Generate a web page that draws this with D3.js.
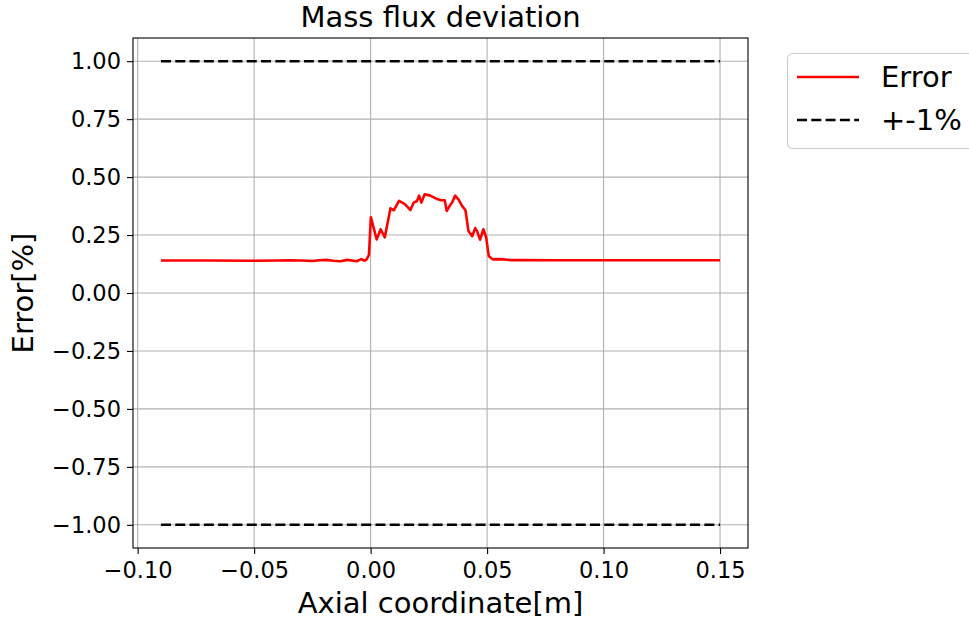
<!DOCTYPE html>
<html>
<head>
<meta charset="utf-8">
<script src="https://cdn.jsdelivr.net/npm/d3@7"></script>
<style>
  html, body { margin: 0; padding: 0; background: #fff; }
  svg { display: block; font-family: "DejaVu Sans", sans-serif; }
</style>
</head>
<body>
<svg id="chart" width="969" height="621"></svg>
<script>
// Axial position [m] of each sample and its mass flux error [%]
const axialX = [
  -0.090, -0.070, -0.050, -0.040, -0.035, -0.030, -0.025, -0.022, -0.019, -0.016,
  -0.013, -0.010, -0.008, -0.006, -0.004, -0.0025, -0.0017, -0.0007, 0.0001, 0.0026,
  0.0043, 0.0061, 0.0085, 0.0100, 0.0122, 0.0147, 0.0171, 0.0185, 0.0199, 0.0208,
  0.0218, 0.0232, 0.0256, 0.0282, 0.0303, 0.0318, 0.0327, 0.0339, 0.0350, 0.0363,
  0.0377, 0.0393, 0.0407, 0.0420, 0.0436, 0.0449, 0.0457, 0.0470, 0.0484, 0.0496,
  0.0507, 0.0524, 0.0560, 0.0600, 0.0650, 0.0800, 0.1000, 0.1250, 0.1500
];
const errorPct = [
  0.140, 0.140, 0.139, 0.140, 0.141, 0.140, 0.138, 0.141, 0.143, 0.139,
  0.137, 0.143, 0.140, 0.137, 0.146, 0.139, 0.145, 0.165, 0.327, 0.231,
  0.275, 0.240, 0.365, 0.357, 0.397, 0.383, 0.358, 0.390, 0.397, 0.420,
  0.390, 0.426, 0.420, 0.407, 0.400, 0.400, 0.354, 0.375, 0.390, 0.420,
  0.404, 0.375, 0.358, 0.267, 0.245, 0.280, 0.267, 0.230, 0.275, 0.240,
  0.160, 0.145, 0.146, 0.142, 0.142, 0.141, 0.141, 0.141, 0.141
];
// +-1% tolerance band
const bandX = [-0.09, 0.15];
const bandLevels = [1.0, -1.0];

const xTicks = [-0.10, -0.05, 0.00, 0.05, 0.10, 0.15];
const yTicks = [-1.00, -0.75, -0.50, -0.25, 0.00, 0.25, 0.50, 0.75, 1.00];

const legendLabels = ["Error", "+-1%"];

const svg = d3.select("#chart");
const plot = { left: 133, right: 748, top: 38, bottom: 548 };

const x = d3.scaleLinear().domain([-0.102, 0.162]).range([plot.left, plot.right]);
const y = d3.scaleLinear().domain([-1.1, 1.1]).range([plot.bottom, plot.top]);

const fmt = v => d3.format(".2f")(v).replace("-", "\u2212");

// grid
const grid = svg.append("g");
grid.selectAll("line.gx").data(xTicks).join("line")
  .attr("x1", d => x(d)).attr("x2", d => x(d))
  .attr("y1", plot.top).attr("y2", plot.bottom)
  .attr("stroke", "#b0b0b0").attr("stroke-width", 1.1);
grid.selectAll("line.gy").data(yTicks).join("line")
  .attr("y1", d => y(d)).attr("y2", d => y(d))
  .attr("x1", plot.left).attr("x2", plot.right)
  .attr("stroke", "#b0b0b0").attr("stroke-width", 1.1);

// tolerance lines
const line = d3.line().x(d => x(d[0])).y(d => y(d[1]));
bandLevels.forEach(lv => {
  svg.append("path")
    .attr("d", line(bandX.map(v => [v, lv])))
    .attr("fill", "none").attr("stroke", "#000")
    .attr("stroke-width", 2.6).attr("stroke-dasharray", "10,4.3");
});

// error curve
svg.append("path")
  .attr("d", line(axialX.map((v, i) => [v, errorPct[i]])))
  .attr("fill", "none").attr("stroke", "#ff0000")
  .attr("stroke-width", 2.6).attr("stroke-linejoin", "round");

// axes
const xAxis = d3.axisBottom(x).tickValues(xTicks).tickFormat(fmt).tickSize(6).tickPadding(8);
const yAxis = d3.axisLeft(y).tickValues(yTicks).tickFormat(fmt).tickSize(6).tickPadding(6);

const gx = svg.append("g").attr("transform", `translate(0,${plot.bottom})`).call(xAxis);
const gy = svg.append("g").attr("transform", `translate(${plot.left},0)`).call(yAxis);
[gx, gy].forEach(g => {
  g.select(".domain").remove();
  g.selectAll(".tick line").attr("stroke", "#000").attr("stroke-width", 1.1);
  g.selectAll(".tick text").attr("fill", "#000").attr("font-size", 22.5)
    .attr("font-family", "DejaVu Sans");
});

// frame
svg.append("rect")
  .attr("x", plot.left).attr("y", plot.top)
  .attr("width", plot.right - plot.left).attr("height", plot.bottom - plot.top)
  .attr("fill", "none").attr("stroke", "#000").attr("stroke-width", 1.1);

// titles
svg.append("text").attr("x", (plot.left + plot.right) / 2).attr("y", 27)
  .attr("text-anchor", "middle").attr("font-size", 29).text("Mass flux deviation");
svg.append("text").attr("x", (plot.left + plot.right) / 2).attr("y", 613)
  .attr("text-anchor", "middle").attr("font-size", 29).text("Axial coordinate[m]");
svg.append("text")
  .attr("transform", `translate(33,${(plot.top + plot.bottom) / 2}) rotate(-90)`)
  .attr("text-anchor", "middle").attr("font-size", 29).text("Error[%]");

// legend
const lg = svg.append("g");
lg.append("rect").attr("x", 787.5).attr("y", 53.5).attr("width", 200).attr("height", 95)
  .attr("rx", 5).attr("fill", "#fff").attr("fill-opacity", 0.8)
  .attr("stroke", "#cccccc").attr("stroke-width", 1.1);
const rowsY = [77, 120];
const styles = [
  { stroke: "#ff0000", dash: null },
  { stroke: "#000", dash: "10,4.3" }
];
legendLabels.forEach((lab, i) => {
  lg.append("line").attr("x1", 797).attr("x2", 859)
    .attr("y1", rowsY[i]).attr("y2", rowsY[i])
    .attr("stroke", styles[i].stroke).attr("stroke-width", 2.6)
    .attr("stroke-dasharray", styles[i].dash);
  lg.append("text").attr("x", 881).attr("y", rowsY[i] + 10)
    .attr("font-size", 29).text(lab);
});
</script>
</body>
</html>
